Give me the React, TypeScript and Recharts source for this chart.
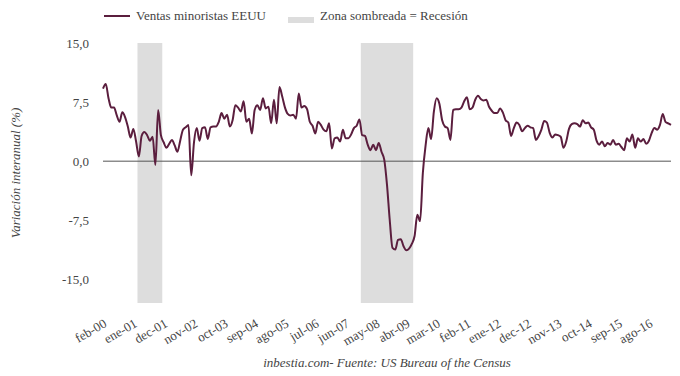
import {
  LineChart,
  Line,
  XAxis,
  YAxis,
  ReferenceArea,
  ReferenceLine,
} from "recharts";

const MESES = ["ene", "feb", "mar", "abr", "may", "jun", "jul", "ago", "sep", "oct", "nov", "dec"];

// variación interanual (%) de las ventas minoristas, por año
const v2000 = [9.2, 9.8, 8.0, 6.8, 6.8, 5.8, 5.0, 6.2, 5.6, 4.4, 3.0]; // desde feb
const v2001 = [4.1, 2.5, 0.6, 3.2, 3.7, 3.3, 2.6, 3.1, -0.5, 6.5, 3.3, 2.4];
const v2002 = [1.7, 2.2, 2.7, 2.0, 1.2, 2.6, 4.0, 4.3, 4.6, -1.8, 2.4, 4.2];
const v2003 = [2.6, 4.2, 4.3, 2.8, 4.3, 4.4, 4.4, 5.0, 6.1, 5.4, 5.9, 4.4];
const v2004 = [5.2, 7.1, 6.8, 6.3, 7.6, 5.0, 5.4, 3.5, 6.5, 7.1, 6.5, 8.0];
const v2005 = [6.7, 6.9, 4.8, 7.8, 4.8, 9.4, 8.2, 6.8, 6.0, 5.8, 5.9, 5.4];
const v2006 = [8.6, 6.8, 7.0, 6.6, 5.0, 4.5, 3.5, 5.0, 4.6, 4.0, 3.8, 4.8];
const v2007 = [1.6, 2.9, 3.0, 2.5, 4.0, 2.9, 2.9, 3.4, 4.2, 4.5, 5.3, 3.3];
const v2008 = [3.2, 2.1, 1.4, 2.1, 1.4, 2.3, 1.2, 0.2, -3.0, -7.5, -11.0, -11.2];
const v2009 = [-10.0, -9.9, -10.8, -11.3, -11.1, -10.5, -9.5, -6.8, -7.6, -1.5, 2.0, 4.2];
const v2010 = [2.8, 6.3, 8.0, 7.3, 5.2, 4.4, 4.2, 2.7, 6.5, 6.6, 6.6, 6.8];
const v2011 = [7.6, 8.1, 6.6, 6.8, 7.8, 8.3, 7.9, 7.7, 7.8, 6.9, 6.4, 6.1];
const v2012 = [6.1, 6.7, 6.2, 5.2, 4.9, 3.2, 4.2, 4.9, 4.6, 3.8, 4.2, 4.5];
const v2013 = [4.3, 4.2, 2.7, 3.2, 4.0, 5.1, 4.9, 3.6, 3.0, 3.4, 3.3, 3.1];
const v2014 = [1.7, 2.5, 4.1, 4.7, 4.8, 4.7, 4.4, 5.2, 4.8, 4.9, 4.3, 4.0];
const v2015 = [2.6, 2.1, 2.5, 1.9, 2.3, 2.1, 2.7, 2.1, 2.2, 1.8, 1.4, 2.9];
const v2016 = [2.5, 3.4, 1.7, 2.9, 2.5, 2.8, 2.2, 2.6, 3.6, 4.2, 4.0, 4.6];
const v2017 = [6.0, 5.0, 4.8, 4.6]; // hasta abr

const SERIES: [number, number, number[]][] = [
  [2000, 1, v2000],
  [2001, 0, v2001],
  [2002, 0, v2002],
  [2003, 0, v2003],
  [2004, 0, v2004],
  [2005, 0, v2005],
  [2006, 0, v2006],
  [2007, 0, v2007],
  [2008, 0, v2008],
  [2009, 0, v2009],
  [2010, 0, v2010],
  [2011, 0, v2011],
  [2012, 0, v2012],
  [2013, 0, v2013],
  [2014, 0, v2014],
  [2015, 0, v2015],
  [2016, 0, v2016],
  [2017, 0, v2017],
];

const TICK_LABELS = [
  "feb-00", "ene-01", "dec-01", "nov-02", "oct-03", "sep-04", "ago-05",
  "jul-06", "jun-07", "may-08", "abr-09", "mar-10", "feb-11", "ene-12",
  "dec-12", "nov-13", "oct-14", "sep-15", "ago-16",
];

const RECESIONES = [
  ["mar-01", "nov-01"],
  ["dec-07", "jun-09"],
];

const Y_TICKS = [-15, -7.5, 0, 7.5, 15];

const data = SERIES.flatMap(([year, m0, vals]) =>
  vals.map((v, k) => ({
    mes: `${MESES[m0 + k]}-${String(year % 100).padStart(2, "0")}`,
    ventas: v,
  }))
).map((d, i) => ({ ...d, i }));

const idx = (mes: string) => data.findIndex((d) => d.mes === mes);

const LINE = "#5b1e3e";
const TEXT = "#444";
const FONT = "'Liberation Serif', 'Times New Roman', serif";

export default function App() {
  return (
    <div
      style={{
        position: "absolute",
        left: 0,
        top: 0,
        width: 680,
        height: 376,
        background: "#fff",
        fontFamily: FONT,
      }}
    >
      {/* leyenda */}
      <div style={{ position: "absolute", left: 104, top: 15, width: 26, height: 2, background: LINE }} />
      <div style={{ position: "absolute", left: 136, top: 7, fontSize: 13, color: TEXT, lineHeight: "18px" }}>
        Ventas minoristas EEUU
      </div>
      <div style={{ position: "absolute", left: 288, top: 17, width: 26, height: 6, background: "#dddddd" }} />
      <div style={{ position: "absolute", left: 320, top: 7, fontSize: 13, color: TEXT, lineHeight: "18px" }}>
        Zona sombreada = Recesión
      </div>

      <LineChart
        width={680}
        height={376}
        data={data}
        margin={{ top: 43, right: 9, bottom: 23, left: 0 }}
        style={{ position: "absolute", left: 0, top: 0 }}
      >
        <XAxis
          dataKey="i"
          type="number"
          domain={[0, data.length - 1]}
          ticks={TICK_LABELS.map(idx)}
          tickFormatter={(v: number) => data[v]?.mes ?? ""}
          interval={0}
          axisLine={false}
          tickLine={false}
          tickMargin={9}
          angle={-30}
          textAnchor="end"
          height={50}
          tick={{ fill: TEXT, fontSize: 13, fontFamily: FONT }}
        />
        <YAxis
          domain={[-18, 15]}
          ticks={Y_TICKS}
          tickFormatter={(v: number) => v.toFixed(1).replace(".", ",")}
          axisLine={false}
          tickLine={false}
          tickMargin={8}
          width={103}
          tick={{ fill: TEXT, fontSize: 13, fontFamily: FONT }}
          label={{
            value: "Variación interanual (%)",
            angle: -90,
            position: "insideLeft",
            offset: 15,
            style: { textAnchor: "middle", fill: TEXT, fontSize: 13, fontStyle: "italic", fontFamily: FONT },
          }}
        />
        {RECESIONES.map(([a, b]) => (
          <ReferenceArea
            key={a}
            x1={idx(a) - 0.5}
            x2={idx(b) + 0.5}
            fill="#dddddd"
            fillOpacity={1}
            stroke="none"
            ifOverflow="hidden"
          />
        ))}
        <ReferenceLine y={0} stroke="#555" strokeWidth={1} />
        <Line
          type="monotone"
          dataKey="ventas"
          stroke={LINE}
          strokeWidth={2}
          dot={false}
          isAnimationActive={false}
        />
      </LineChart>

      <div
        style={{
          position: "absolute",
          left: 103,
          width: 568,
          top: 355,
          textAlign: "center",
          fontSize: 13,
          fontStyle: "italic",
          color: TEXT,
        }}
      >
        inbestia.com- Fuente: US Bureau of the Census
      </div>
    </div>
  );
}
